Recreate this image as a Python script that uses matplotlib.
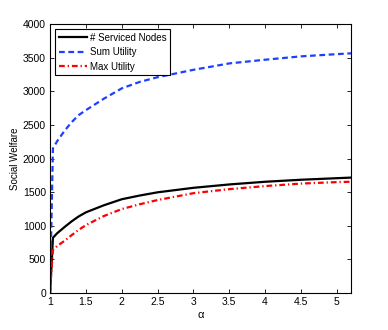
import numpy as np
import matplotlib
matplotlib.use("Agg")
import matplotlib.pyplot as plt

plt.rcParams['font.family'] = ['Liberation Sans', 'DejaVu Sans']

# Data
alpha = [1.0, 1.02, 1.04, 1.1, 1.2, 1.3, 1.4, 1.5, 1.75, 2.0, 2.25, 2.5,
         3.0, 3.5, 4.0, 4.5, 5.0, 5.2]
serviced = [0, 400, 822, 890, 980, 1065, 1140, 1200, 1305, 1395, 1450, 1498,
            1565, 1615, 1655, 1685, 1708, 1717]
sum_util = [0, 1100, 2150, 2260, 2410, 2540, 2647, 2720, 2890, 3044, 3140, 3210,
            3320, 3415, 3470, 3520, 3553, 3565]
max_util = [0, 350, 640, 700, 775, 860, 940, 1010, 1145, 1249, 1320, 1383,
            1485, 1545, 1591, 1628, 1650, 1655]

fig = plt.figure(figsize=(3.88, 3.30), dpi=100)
ax = fig.add_axes([0.129, 0.112, 0.776, 0.815])

ax.plot(alpha, serviced, color='k', lw=1.6, label='# Serviced Nodes')
ax.plot(alpha, sum_util, color='#1f3fff', lw=1.6, dashes=(2.6, 1.6), label='Sum Utility')
ax.plot(alpha, max_util, color='red', lw=1.6, dashes=(2.6, 1.3, 0.6, 1.3), label='Max Utility')

ax.set_xlim(1, 5.2)
ax.set_ylim(0, 4000)
ax.set_xticks(np.arange(1, 5.01, 0.5))
ax.set_xticklabels(['1', '1.5', '2', '2.5', '3', '3.5', '4', '4.5', '5'])
ax.set_yticks(np.arange(0, 4001, 500))
ax.tick_params(direction='in', top=True, right=True, labelsize=7.5, length=3, width=0.6, pad=3)
for s in ax.spines.values():
    s.set_linewidth(0.8)

ax.set_xlabel('α', fontsize=8, labelpad=2)
ax.set_ylabel('Social Welfare', fontsize=7, labelpad=2)

leg = ax.legend(loc='upper left', fontsize=7, fancybox=False, framealpha=1,
                edgecolor='k', handlelength=2.9, borderaxespad=0.5,
                labelspacing=0.45, handletextpad=0.3, borderpad=0.4)
leg.get_frame().set_linewidth(0.8)

fig.savefig('out.png', dpi=100)
